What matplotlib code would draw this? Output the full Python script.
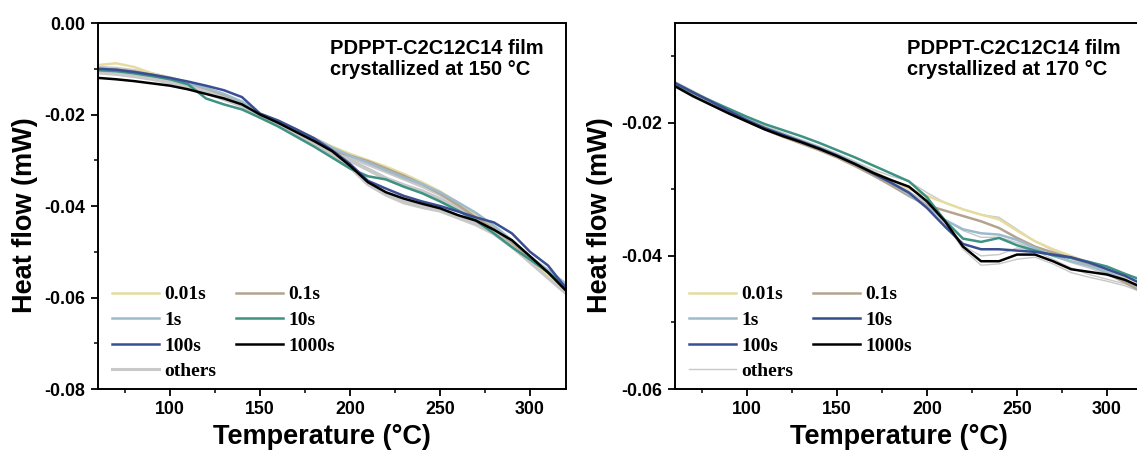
import numpy as np
import matplotlib
matplotlib.use("Agg")
import matplotlib.pyplot as plt
from matplotlib.lines import Line2D
from matplotlib.ticker import MultipleLocator, FormatStrFormatter

plt.rcParams["font.family"] = ["Liberation Sans", "DejaVu Sans"]
plt.rcParams["axes.unicode_minus"] = False

temps = list(range(60, 330, 10))

# ---- left panel: crystallized at 150 C ----
l_001 = [-0.0092, -0.0088, -0.0096, -0.0110, -0.0120, -0.0130, -0.0142, -0.0156, -0.0172, -0.0198,
         -0.0214, -0.0232, -0.0251, -0.0270, -0.0286, -0.0300, -0.0314, -0.0330, -0.0348, -0.0368,
         -0.0393, -0.0420, -0.0448, -0.0480, -0.0515, -0.0550, -0.0582]
l_01 = [-0.0100, -0.0102, -0.0106, -0.0113, -0.0121, -0.0131, -0.0143, -0.0157, -0.0173, -0.0200,
        -0.0217, -0.0236, -0.0256, -0.0279, -0.0290, -0.0302, -0.0318, -0.0334, -0.0352, -0.0373,
        -0.0398, -0.0425, -0.0450, -0.0480, -0.0513, -0.0545, -0.0580]
l_1 = [-0.0104, -0.0106, -0.0109, -0.0115, -0.0122, -0.0131, -0.0142, -0.0155, -0.0172, -0.0200,
       -0.0215, -0.0233, -0.0252, -0.0272, -0.0290, -0.0305, -0.0322, -0.0338, -0.0352, -0.0370,
       -0.0392, -0.0415, -0.0443, -0.0475, -0.0510, -0.0540, -0.0570]
l_10 = [-0.0103, -0.0105, -0.0110, -0.0116, -0.0123, -0.0134, -0.0165, -0.0178, -0.0189, -0.0207,
        -0.0226, -0.0248, -0.0270, -0.0294, -0.0318, -0.0335, -0.0342, -0.0358, -0.0372, -0.0390,
        -0.0410, -0.0432, -0.0460, -0.0490, -0.0517, -0.0545, -0.0576]
l_100 = [-0.0100, -0.0102, -0.0107, -0.0113, -0.0120, -0.0128, -0.0137, -0.0147, -0.0162, -0.0198,
         -0.0213, -0.0232, -0.0252, -0.0278, -0.0308, -0.0345, -0.0362, -0.0378, -0.0390, -0.0400,
         -0.0412, -0.0425, -0.0436, -0.0460, -0.0500, -0.0530, -0.0580]
l_1000 = [-0.0120, -0.0123, -0.0127, -0.0132, -0.0137, -0.0145, -0.0155, -0.0165, -0.0178, -0.0200,
          -0.0218, -0.0238, -0.0258, -0.0280, -0.0312, -0.0348, -0.0370, -0.0384, -0.0395, -0.0405,
          -0.0420, -0.0432, -0.0452, -0.0475, -0.0510, -0.0545, -0.0585]
l_others = [
    [-0.0098, -0.0100, -0.0105, -0.0112, -0.0121, -0.0132, -0.0145, -0.0160, -0.0177, -0.0201,
     -0.0218, -0.0236, -0.0255, -0.0274, -0.0292, -0.0308, -0.0324, -0.0340, -0.0356, -0.0374,
     -0.0396, -0.0420, -0.0448, -0.0482, -0.0518, -0.0550, -0.0578],
    [-0.0108, -0.0111, -0.0116, -0.0122, -0.0130, -0.0140, -0.0152, -0.0166, -0.0181, -0.0203,
     -0.0222, -0.0242, -0.0263, -0.0287, -0.0314, -0.0352, -0.0375, -0.0392, -0.0402, -0.0410,
     -0.0425, -0.0440, -0.0460, -0.0488, -0.0522, -0.0556, -0.0590],
    [-0.0102, -0.0105, -0.0110, -0.0117, -0.0125, -0.0135, -0.0148, -0.0162, -0.0178, -0.0202,
     -0.0220, -0.0240, -0.0260, -0.0281, -0.0300, -0.0320, -0.0340, -0.0355, -0.0368, -0.0385,
     -0.0405, -0.0428, -0.0455, -0.0485, -0.0515, -0.0548, -0.0583],
]

# ---- right panel: crystallized at 170 C ----
r_001 = [-0.0140, -0.0154, -0.0168, -0.0181, -0.0194, -0.0206, -0.0217, -0.0227, -0.0237, -0.0248,
         -0.0260, -0.0273, -0.0286, -0.0299, -0.0310, -0.0320, -0.0330, -0.0338, -0.0345, -0.0362,
         -0.0378, -0.0390, -0.0400, -0.0410, -0.0420, -0.0434, -0.0450]
r_01 = [-0.0144, -0.0158, -0.0172, -0.0185, -0.0198, -0.0210, -0.0221, -0.0231, -0.0241, -0.0252,
        -0.0265, -0.0279, -0.0294, -0.0310, -0.0324, -0.0332, -0.0340, -0.0348, -0.0358, -0.0373,
        -0.0386, -0.0395, -0.0403, -0.0413, -0.0426, -0.0440, -0.0455]
r_1 = [-0.0141, -0.0155, -0.0169, -0.0182, -0.0195, -0.0207, -0.0217, -0.0227, -0.0237, -0.0248,
       -0.0260, -0.0274, -0.0290, -0.0308, -0.0326, -0.0346, -0.0360, -0.0366, -0.0368, -0.0376,
       -0.0388, -0.0400, -0.0408, -0.0415, -0.0424, -0.0436, -0.0450]
r_10 = [-0.0142, -0.0155, -0.0167, -0.0179, -0.0191, -0.0202, -0.0211, -0.0220, -0.0230, -0.0241,
        -0.0252, -0.0264, -0.0276, -0.0288, -0.0312, -0.0347, -0.0374, -0.0379, -0.0373, -0.0384,
        -0.0392, -0.0399, -0.0403, -0.0409, -0.0416, -0.0427, -0.0437]
r_100 = [-0.0140, -0.0154, -0.0168, -0.0182, -0.0196, -0.0208, -0.0218, -0.0228, -0.0238, -0.0249,
         -0.0262, -0.0276, -0.0290, -0.0305, -0.0328, -0.0356, -0.0382, -0.0390, -0.0390, -0.0392,
         -0.0394, -0.0398, -0.0402, -0.0410, -0.0420, -0.0430, -0.0443]
r_1000 = [-0.0145, -0.0160, -0.0173, -0.0186, -0.0198, -0.0210, -0.0220, -0.0229, -0.0239, -0.0250,
          -0.0262, -0.0275, -0.0286, -0.0296, -0.0318, -0.0348, -0.0386, -0.0408, -0.0408, -0.0398,
          -0.0398, -0.0408, -0.0420, -0.0424, -0.0428, -0.0436, -0.0448]
r_others = [
    [-0.0138, -0.0152, -0.0166, -0.0180, -0.0193, -0.0205, -0.0215, -0.0225, -0.0235, -0.0246,
     -0.0258, -0.0270, -0.0280, -0.0288, -0.0305, -0.0320, -0.0330, -0.0338, -0.0342, -0.0360,
     -0.0378, -0.0392, -0.0402, -0.0412, -0.0425, -0.0438, -0.0452],
    [-0.0142, -0.0156, -0.0170, -0.0183, -0.0196, -0.0208, -0.0218, -0.0228, -0.0238, -0.0249,
     -0.0261, -0.0274, -0.0288, -0.0303, -0.0320, -0.0345, -0.0362, -0.0372, -0.0372, -0.0380,
     -0.0390, -0.0400, -0.0410, -0.0418, -0.0428, -0.0440, -0.0453],
    [-0.0143, -0.0157, -0.0171, -0.0184, -0.0197, -0.0209, -0.0219, -0.0229, -0.0239, -0.0250,
     -0.0262, -0.0276, -0.0290, -0.0305, -0.0322, -0.0352, -0.0385, -0.0400, -0.0398, -0.0388,
     -0.0392, -0.0405, -0.0418, -0.0428, -0.0435, -0.0442, -0.0452],
    [-0.0146, -0.0161, -0.0174, -0.0187, -0.0199, -0.0211, -0.0221, -0.0230, -0.0240, -0.0251,
     -0.0263, -0.0277, -0.0291, -0.0306, -0.0320, -0.0350, -0.0390, -0.0414, -0.0412, -0.0405,
     -0.0402, -0.0412, -0.0425, -0.0432, -0.0438, -0.0445, -0.0455],
]

labels = ["0.01s", "0.1s", "1s", "10s", "100s", "1000s", "others"]
left_colors = ["#e6dca0", "#b4a48f", "#9dbbcc", "#3d9282", "#3a4e94", "#000000", "#c8c8c8"]
right_colors = ["#e6dca0", "#b4a48f", "#9dbbcc", "#334d8c", "#3a4e94", "#000000", "#c8c8c8"]
right_10s_curve = "#3d9282"

fig = plt.figure(figsize=(11.37, 4.54), dpi=100)
W, H = 1137, 454
ax1 = fig.add_axes([98 / W, (H - 389) / H, 468 / W, 366 / H])
ax2 = fig.add_axes([675 / W, (H - 389) / H, 468 / W, 366 / H])


def style(ax, ylim, title, ylab_x):
    ax.set_xlim(60, 320)
    ax.set_ylim(*ylim)
    ax.xaxis.set_major_locator(MultipleLocator(50))
    ax.xaxis.set_minor_locator(MultipleLocator(25))
    ax.yaxis.set_major_locator(MultipleLocator(0.02))
    ax.yaxis.set_minor_locator(MultipleLocator(0.01))
    ax.yaxis.set_major_formatter(FormatStrFormatter("%.2f"))
    ax.tick_params(which="major", direction="out", length=5, width=1.3, labelsize=12.8, pad=4)
    ax.tick_params(which="minor", direction="out", length=3, width=1.1)
    for lab in ax.get_xticklabels() + ax.get_yticklabels():
        lab.set_fontweight("bold")
    for sp in ax.spines.values():
        sp.set_linewidth(1.4)
    ax.set_xlabel("Temperature (\u00b0C)", fontsize=19.5, fontweight="bold")
    ax.set_ylabel("Heat flow (mW)", fontsize=19.5, fontweight="bold")
    ax.xaxis.set_label_coords(0.479, -0.095)
    ax.yaxis.set_label_coords(ylab_x, 0.475)
    ax.text(0.495, 0.955, title, transform=ax.transAxes, fontsize=14.5, fontweight="bold",
            va="top", ha="left", linespacing=1.08)


def add_legend(ax, colors, lws):
    order = [0, 2, 4, 6, 1, 3, 5]
    handles = [Line2D([], [], color=colors[i], lw=lws[i]) for i in order]
    ax.legend(handles, [labels[i] for i in order], ncol=2, loc="upper left",
              bbox_to_anchor=(0.030, 0.282), frameon=False, borderpad=0, borderaxespad=0,
              handlelength=2.4, handletextpad=0.3, columnspacing=1.0, labelspacing=0.41,
              prop={"family": "Liberation Serif", "weight": "bold", "size": 14})


# left
for ys in l_others:
    ax1.plot(temps, ys, color=left_colors[6], lw=3.0)
for ys, c in zip([l_001, l_01, l_1, l_10, l_100, l_1000], left_colors[:6]):
    ax1.plot(temps, ys, color=c, lw=1.8)
style(ax1, (-0.08, 0.0), "PDPPT-C2C12C14 film\ncrystallized at 150 \u00b0C", -0.128)
add_legend(ax1, left_colors, [1.8] * 6 + [2.2])

# right
for ys in r_others:
    ax2.plot(temps, ys, color=right_colors[6], lw=1.0)
curve_cols = right_colors[:3] + [right_10s_curve] + right_colors[4:6]
for ys, c in zip([r_001, r_01, r_1, r_10, r_100, r_1000], curve_cols):
    ax2.plot(temps, ys, color=c, lw=1.8)
style(ax2, (-0.06, -0.005), "PDPPT-C2C12C14 film\ncrystallized at 170 \u00b0C", -0.132)
add_legend(ax2, right_colors, [1.8] * 6 + [1.0])

fig.savefig("out.png", dpi=100)
